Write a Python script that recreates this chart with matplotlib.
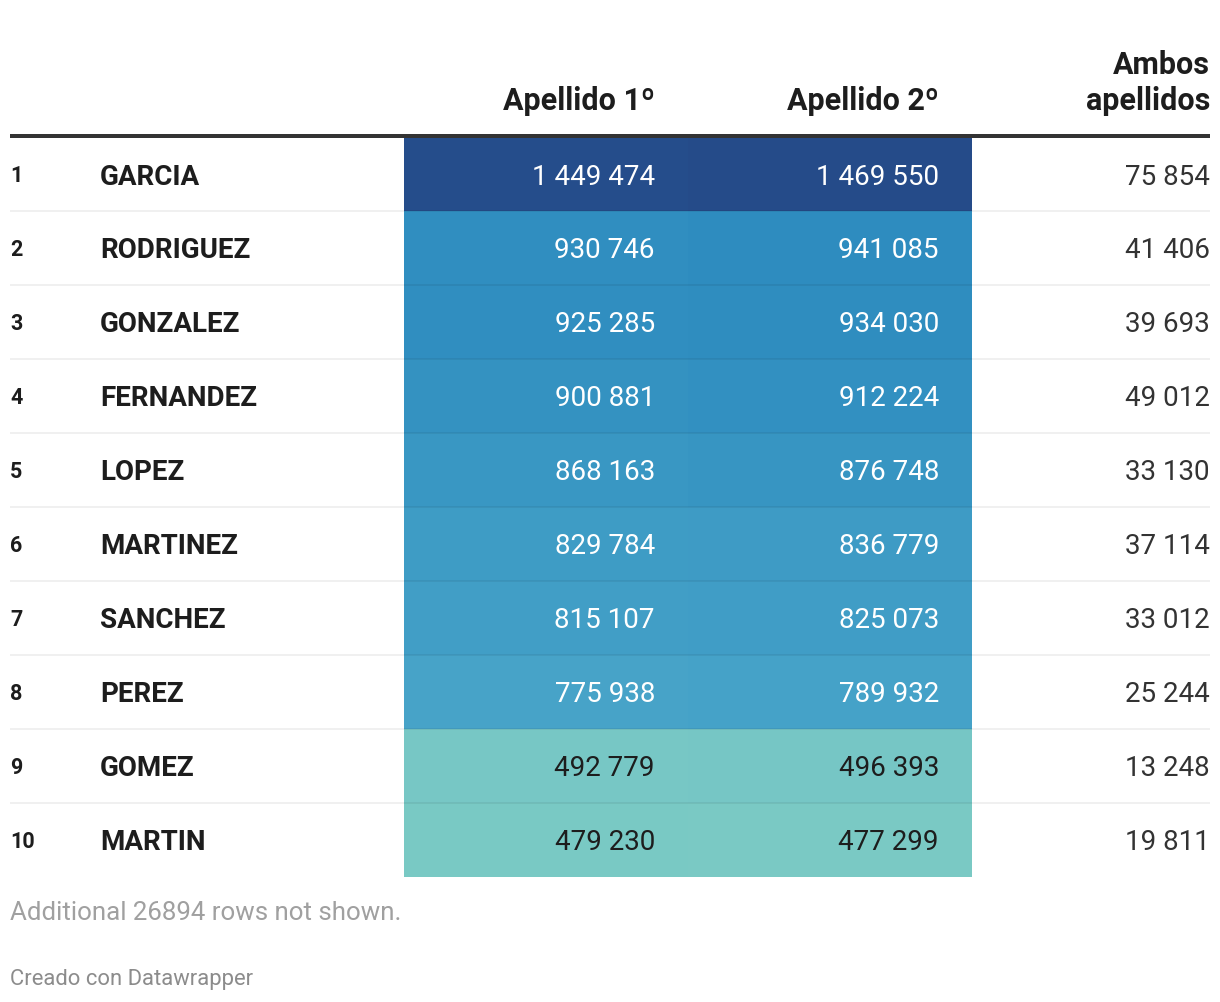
import numpy as np
import matplotlib
matplotlib.use('Agg')
import matplotlib.pyplot as plt
from matplotlib.colors import LinearSegmentedColormap

plt.rcParams['font.family'] = ['Roboto', 'DejaVu Sans']

#%% data read off the reference table
ranks = [1, 2, 3, 4, 5, 6, 7, 8, 9, 10]
surnames = ['GARCIA', 'RODRIGUEZ', 'GONZALEZ', 'FERNANDEZ', 'LOPEZ',
            'MARTINEZ', 'SANCHEZ', 'PEREZ', 'GOMEZ', 'MARTIN']
apellido1 = [1449474, 930746, 925285, 900881, 868163,
             829784, 815107, 775938, 492779, 479230]
apellido2 = [1469550, 941085, 934030, 912224, 876748,
             836779, 825073, 789932, 496393, 477299]
ambos = [75854, 41406, 39693, 49012, 33130,
         37114, 33012, 25244, 13248, 19811]
headers = ['Apellido 1º', 'Apellido 2º', 'Ambos\napellidos']
note = 'Additional 26894 rows not shown.'
credit = 'Creado con Datawrapper'

# colour scale of the heatmap columns (value -> colour)
scale_vals = [470000, 500000, 780000, 940000, 1470000]
scale_cols = ['#7bcac4', '#75c5c5', '#46a3c8', '#2e8cbf', '#254b89']

#%%
def fmt(v):
    return f'{v:,}'.replace(',', ' ')

lo, hi = scale_vals[0], scale_vals[-1]
cmap = LinearSegmentedColormap.from_list(
    'dw', [((v - lo) / (hi - lo), c) for v, c in zip(scale_vals, scale_cols)])

def cell_color(v):
    return cmap((v - lo) / (hi - lo))

W, H = 1220, 1002
fig = plt.figure(figsize=(W / 100, H / 100), dpi=100)
ax = fig.add_axes([0, 0, 1, 1])
ax.set_xlim(0, W)
ax.set_ylim(H, 0)
ax.axis('off')

px = 0.72  # points per pixel at dpi 100
top = 137
row_h = 74
left, right = 10, 1210
col_edges = [404, 688, 972]
pad = 33

centers = top + row_h * (np.arange(len(ranks)) + 0.5)

# heatmap cells
for j, vals in enumerate([apellido1, apellido2]):
    ax.barh(centers, [col_edges[j + 1] - col_edges[j]] * len(vals),
            left=col_edges[j], height=row_h,
            color=[cell_color(v) for v in vals], linewidth=0, zorder=1)

# row separators
for k in range(1, len(ranks)):
    y = top + row_h * k
    ax.plot([left, right], [y, y], color=(0, 0, 0, 0.075),
            lw=1.6 * px, solid_capstyle='butt', zorder=2)

# header rule
ax.plot([left, right], [135.5, 135.5], color='#333333', lw=4 * px,
        solid_capstyle='butt', zorder=3)

# headers
hdr_kw = dict(fontsize=22, fontweight='bold', color='#1d1d1d', ha='right', va='baseline')
ax.text(col_edges[1] - pad, 110, headers[0], **hdr_kw)
ax.text(col_edges[2] - pad, 110, headers[1], **hdr_kw)
h3 = headers[2].split('\n')
ax.text(right, 74, h3[0], **hdr_kw)
ax.text(right, 110, h3[1], **hdr_kw)

# body
for i, yc in enumerate(centers):
    base = yc + 10.5
    ax.text(left, yc + 7.5, str(ranks[i]), fontsize=15.5, fontweight='bold',
            color='#1d1d1d', ha='left', va='baseline', zorder=4)
    ax.text(100, base, surnames[i], fontsize=20, fontweight='bold',
            color='#1d1d1d', ha='left', va='baseline', zorder=4)
    for j, vals in enumerate([apellido1, apellido2]):
        v = vals[i]
        tc = 'white' if v > 600000 else '#1d1d1d'
        ax.text(col_edges[j + 1] - pad, base, fmt(v), fontsize=20,
                color=tc, ha='right', va='baseline', zorder=4)
    ax.text(right, base, fmt(ambos[i]), fontsize=20, color='#333333',
            ha='right', va='baseline', zorder=4)

# footer
ax.text(left, 920, note, fontsize=18.6, color='#a0a0a0', ha='left', va='baseline')
ax.text(left, 985, credit, fontsize=15.8, color='#8c8c8c', ha='left', va='baseline')

fig.savefig('out.png', dpi=100, facecolor='white')
